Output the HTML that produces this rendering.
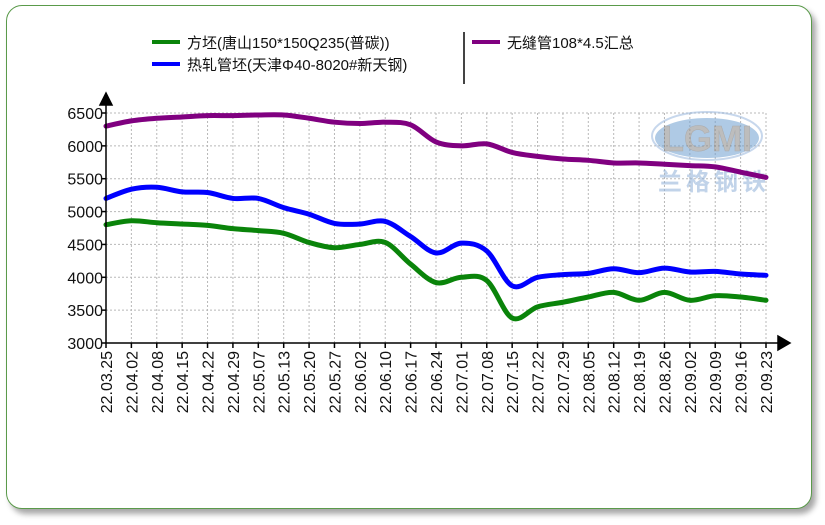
<!DOCTYPE html>
<html><head><meta charset="utf-8"><style>
html,body{margin:0;padding:0;background:#fff;width:825px;height:525px;overflow:hidden}
.card{position:absolute;left:6px;top:5px;width:804px;height:502px;border:1.5px solid #5a9a4a;border-radius:16px;background:#fff;box-shadow:4px 5px 6px rgba(0,0,0,0.35)}
</style></head><body>
<div class="card"></div>
<svg id="s" width="825" height="525" style="position:absolute;left:0;top:0" font-family="Liberation Sans, Noto Sans CJK SC, sans-serif">
<g id="grid" stroke="#b8b8b8" stroke-width="1" stroke-dasharray="2,2"></g>
<g opacity="0.55">
<ellipse cx="707" cy="138" rx="52" ry="20" fill="#6f9fd0"/>
<ellipse cx="707" cy="136" rx="55" ry="24" fill="none" stroke="#9ab8de" stroke-width="2"/>
<text x="707" y="151" text-anchor="middle" font-size="36" font-weight="bold" fill="#888" stroke="#666" stroke-width="0.5">LGMI</text>
<text x="714" y="190" text-anchor="middle" font-size="24" font-weight="bold" fill="#8fb0d8" letter-spacing="4">兰格钢铁</text>
</g>
<g id="lines" fill="none" stroke-width="5" stroke-linejoin="round" stroke-linecap="round"></g>
<g id="axes" stroke="#000" stroke-width="1.5"></g>
<g id="lab" font-size="16" fill="#111"></g>
<line x1="152" y1="42" x2="180" y2="42" stroke="#0a840a" stroke-width="4"/>
<text x="187" y="48" font-size="15" fill="#111">方坯(唐山150*150Q235(普碳))</text>
<line x1="152" y1="64" x2="180" y2="64" stroke="#0000ff" stroke-width="4"/>
<text x="187" y="70" font-size="15" fill="#111">热轧管坯(天津Φ40-8020#新天钢)</text>
<line x1="464" y1="32" x2="464" y2="84" stroke="#444" stroke-width="2"/>
<line x1="472" y1="42" x2="500" y2="42" stroke="#800080" stroke-width="4"/>
<text x="507" y="48" font-size="15" fill="#111">无缝管108*4.5汇总</text>
</svg>
<script>
var x0=106,x1=766,yb=343,yt=113,N=27,dx=(x1-x0)/26;
function Y(v){return yb-(v-3000)*(yb-yt)/3500}
var ns="http://www.w3.org/2000/svg";
function el(p,t,a,txt){var e=document.createElementNS(ns,t);for(var k in a)e.setAttribute(k,a[k]);if(txt)e.textContent=txt;document.getElementById(p).appendChild(e);return e}
for(var v=3500;v<=6500;v+=500)el('grid','line',{x1:x0,x2:x1,y1:Y(v),y2:Y(v)});
for(var i=1;i<N;i++){var x=x0+i*dx;el('grid','line',{x1:x,x2:x,y1:yt,y2:yb})}
el('axes','line',{x1:x0,y1:yb,x2:x1+12,y2:yb});
el('axes','line',{x1:x0,y1:yb,x2:x0,y2:yt-12});
el('axes','path',{d:'M'+(x0-6)+' '+(yt-8)+'L'+x0+' '+(yt-20)+'L'+(x0+6)+' '+(yt-8)+'Z',fill:'#000'});
el('axes','path',{d:'M'+(x1+12)+' '+(yb-7)+'L'+(x1+24)+' '+yb+'L'+(x1+12)+' '+(yb+7)+'Z',fill:'#000'});
for(var v=3000;v<=6500;v+=500){el('axes','line',{x1:x0-4,x2:x0,y1:Y(v),y2:Y(v)});el('lab','text',{x:x0-3,y:Y(v)+6,'text-anchor':'end'},String(v))}
var d=['22.03.25','22.04.02','22.04.08','22.04.15','22.04.22','22.04.29','22.05.07','22.05.13','22.05.20','22.05.27','22.06.02','22.06.10','22.06.17','22.06.24','22.07.01','22.07.08','22.07.15','22.07.22','22.07.29','22.08.05','22.08.12','22.08.19','22.08.26','22.09.02','22.09.09','22.09.16','22.09.23'];
for(var i=0;i<N;i++){var x=x0+i*dx;el('axes','line',{x1:x,x2:x,y1:yb,y2:yb+5});el('lab','text',{x:0,y:0,'text-anchor':'end',transform:'translate('+(x+6)+','+(yb+8)+') rotate(-90)'},d[i])}
var S=[['#800080',[6300,6380,6420,6440,6460,6460,6470,6470,6420,6360,6340,6360,6320,6060,6000,6030,5900,5840,5800,5780,5740,5740,5720,5700,5680,5600,5520]],
['#0000ff',[5200,5340,5370,5300,5290,5200,5200,5060,4960,4820,4810,4850,4620,4370,4520,4400,3870,4000,4040,4060,4130,4070,4140,4080,4090,4050,4030]],
['#0a840a',[4800,4860,4830,4810,4790,4740,4710,4670,4530,4450,4500,4530,4200,3920,4000,3950,3380,3550,3620,3700,3770,3650,3770,3650,3720,3700,3650]]];
S.forEach(function(s){var p=s[1].map(function(v,i){return[x0+i*dx,Y(v)]});var str='M'+p[0][0]+' '+p[0][1];
for(var i=0;i<p.length-1;i++){var a=p[Math.max(i-1,0)],b=p[i],c=p[i+1],e=p[Math.min(i+2,p.length-1)];
str+='C'+(b[0]+(c[0]-a[0])/6)+' '+(b[1]+(c[1]-a[1])/6)+' '+(c[0]-(e[0]-b[0])/6)+' '+(c[1]-(e[1]-b[1])/6)+' '+c[0]+' '+c[1]}
el('lines','path',{d:str,stroke:s[0]})});
</script>
</body></html>
